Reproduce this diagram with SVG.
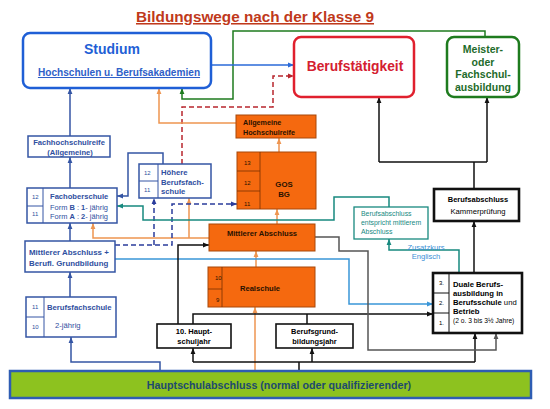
<svg xmlns="http://www.w3.org/2000/svg" width="550" height="409" viewBox="0 0 550 409">
<style>
text{font-family:"Liberation Sans",Arial,sans-serif}
.b{font-weight:bold}
.bt{fill:#2f4fa0}
.bx{fill:#fff;stroke:#3455a4;stroke-width:1.5}
.ob{fill:#f5690f;stroke:#a8480a;stroke-width:1}
.kb{fill:#fff;stroke:#111;stroke-width:1.6}
.kb2{fill:#fff;stroke:#111;stroke-width:2.6}
.dv{stroke:#3455a4;stroke-width:1;fill:none}
.dk{stroke:#7a3000;stroke-width:0.8;fill:none}
.ot{fill:#2a1200}
.c{fill:none;stroke-width:1.5}
.cb{stroke:#3455a4;marker-end:url(#ab)}
.cs{stroke:#2a6ad8;marker-end:url(#as)}
.cg{stroke:#1e7b1e;marker-end:url(#ag)}
.cr{stroke:#b8262e;stroke-dasharray:5 3;marker-end:url(#ar)}
.co{stroke:#ee9550;marker-end:url(#ao)}
.cd{stroke:#2a3c9c;stroke-dasharray:5 3}
.ct{stroke:#17897f}
.cl{stroke:#3a96d8}
.ck{stroke:#111}
.cy{stroke:#555}
.sm{font-size:6px}
</style>
<defs>
<marker id="ab" viewBox="0 0 10 10" refX="10" refY="5" markerWidth="6" markerHeight="6" markerUnits="userSpaceOnUse" orient="auto"><path d="M0,1L10,5L0,9z" fill="#3455a4"/></marker>
<marker id="as" viewBox="0 0 10 10" refX="10" refY="5" markerWidth="6" markerHeight="6" markerUnits="userSpaceOnUse" orient="auto"><path d="M0,1L10,5L0,9z" fill="#2a6ad8"/></marker>
<marker id="ag" viewBox="0 0 10 10" refX="10" refY="5" markerWidth="6" markerHeight="6" markerUnits="userSpaceOnUse" orient="auto"><path d="M0,1L10,5L0,9z" fill="#1e7b1e"/></marker>
<marker id="ar" viewBox="0 0 10 10" refX="10" refY="5" markerWidth="6" markerHeight="6" markerUnits="userSpaceOnUse" orient="auto"><path d="M0,1L10,5L0,9z" fill="#b8262e"/></marker>
<marker id="ao" viewBox="0 0 10 10" refX="10" refY="5" markerWidth="6" markerHeight="6" markerUnits="userSpaceOnUse" orient="auto"><path d="M0,1L10,5L0,9z" fill="#ee9550"/></marker>
<marker id="ad" viewBox="0 0 10 10" refX="10" refY="5" markerWidth="6" markerHeight="6" markerUnits="userSpaceOnUse" orient="auto"><path d="M0,1L10,5L0,9z" fill="#2a3c9c"/></marker>
<marker id="at" viewBox="0 0 10 10" refX="10" refY="5" markerWidth="6" markerHeight="6" markerUnits="userSpaceOnUse" orient="auto"><path d="M0,1L10,5L0,9z" fill="#17897f"/></marker>
<marker id="al" viewBox="0 0 10 10" refX="10" refY="5" markerWidth="6" markerHeight="6" markerUnits="userSpaceOnUse" orient="auto"><path d="M0,1L10,5L0,9z" fill="#3a96d8"/></marker>
<marker id="ak" viewBox="0 0 10 10" refX="10" refY="5" markerWidth="6" markerHeight="6" markerUnits="userSpaceOnUse" orient="auto"><path d="M0,1L10,5L0,9z" fill="#111"/></marker>
<marker id="ay" viewBox="0 0 10 10" refX="10" refY="5" markerWidth="6" markerHeight="6" markerUnits="userSpaceOnUse" orient="auto"><path d="M0,1L10,5L0,9z" fill="#555"/></marker>
</defs>
<rect width="550" height="409" fill="#fff"/>

<text x="255" y="22" text-anchor="middle" class="b" font-size="15.3" fill="#c0391b" text-decoration="underline">Bildungswege nach der Klasse 9</text>

<g id="connectors">
<path class="c cb" d="M70,136V88"/>
<path class="c cb" d="M70,188V157"/>
<path class="c cb" d="M70,241V223"/>
<path class="c cb" d="M70,297V272"/>
<path class="c cb" d="M160,371V362H71V337"/>
<path class="c cb" d="M163,164V153H128V196H117"/>
<path class="c cg" d="M485,37V31H233V99H182V88"/>
<path class="c cs" d="M211,65H294"/>
<path class="c cr" d="M182,164V107H273V76H294"/>
<path class="c co" d="M236,123H159V88"/>
<path class="c co" d="M279,152V138"/>
<path class="c co" d="M277,224V209"/>
<path class="c co" d="M256,267V251"/>
<path class="c co" d="M255,371V307"/>
<path class="c co" d="M209,238H93V223"/>
<path class="c co" d="M189,238V198"/>
<path class="c cd" d="M115,245H172V204H237" marker-end="url(#ad)"/>
<path class="c cd" d="M154,245V198" marker-end="url(#ad)"/>
<path class="c ct" d="M459,273V250H389V239" marker-end="url(#at)"/>
<path class="c ct" d="M389,207V197H334V220H143V206H117" marker-end="url(#at)"/>
<path class="c ck" d="M474,189V162M379,162H487"/>
<path class="c ck" d="M379,162V97" marker-end="url(#ak)"/>
<path class="c ck" d="M487,162V97" marker-end="url(#ak)"/>
<path class="c ck" d="M474,273V221" marker-end="url(#ak)"/>
<path class="c cl" d="M115,259H349V304H433" marker-end="url(#al)"/>
<path class="c ck" d="M178,324V245H209" marker-end="url(#ak)"/>
<path class="c ck" d="M193,324V314H433" marker-end="url(#ak)"/>
<path class="c ck" d="M307,314V324"/>
<path class="c ck" d="M299,371V362M193,362H475"/>
<path class="c ck" d="M193,362V348" marker-end="url(#ak)"/>
<path class="c ck" d="M312,362V348" marker-end="url(#ak)"/>
<path class="c ck" d="M475,362V333" marker-end="url(#ak)"/>
<path class="c cy" d="M315,237H339V251H368V350H496V333" marker-end="url(#ay)"/>
</g>

<g id="studium">
<rect x="23" y="33" width="188" height="55" rx="7" fill="#fff" stroke="#1f5fd6" stroke-width="2.5"/>
<text x="112" y="54" text-anchor="middle" class="b" font-size="14" fill="#1f5fd6">Studium</text>
<text x="119" y="76" text-anchor="middle" class="b" font-size="10.1" fill="#2f5fc8" text-decoration="underline">Hochschulen u. Berufsakademien</text>
</g>

<g id="berufstaetigkeit">
<rect x="294" y="37" width="120" height="60" rx="7" fill="#fff" stroke="#e0202e" stroke-width="2.5"/>
<text x="355" y="71" text-anchor="middle" class="b" font-size="13.8" fill="#d42030">Berufstätigkeit</text>
</g>

<g id="meister">
<rect x="447" y="37" width="72" height="60" rx="7" fill="#fff" stroke="#1e7b1e" stroke-width="2.5"/>
<g class="b" font-size="10.5" fill="#1e6b2a" text-anchor="middle">
<text x="483" y="53">Meister-</text>
<text x="483" y="66">oder</text>
<text x="483" y="78">Fachschul-</text>
<text x="483" y="91">ausbildung</text>
</g>
</g>

<g id="fachhochschulreife">
<rect class="bx" x="28" y="136" width="82" height="21"/>
<text x="69" y="145" text-anchor="middle" class="b bt" font-size="7.6">Fachhochschulreife</text>
<text x="70" y="155" text-anchor="middle" class="b bt" font-size="7.6">(Allgemeine)</text>
</g>

<g id="fachoberschule">
<rect class="bx" x="27" y="188" width="90" height="35"/>
<path class="dv" d="M43,188V223M27,206H43"/>
<text x="32" y="199" class="sm bt">12</text>
<text x="32" y="216" class="sm bt">11</text>
<text x="50" y="199" class="b bt" font-size="7.6">Fachoberschule</text>
<text x="50" y="210" class="bt" font-size="7.6" textLength="58" lengthAdjust="spacingAndGlyphs">Form <tspan class="b">B</tspan> : <tspan class="b">1</tspan>- jährig</text>
<text x="50" y="219" class="bt" font-size="7.6" textLength="58" lengthAdjust="spacingAndGlyphs">Form <tspan class="b">A</tspan> : <tspan class="b">2</tspan>- jährig</text>
</g>

<g id="hoehere-berufsfachschule">
<rect class="bx" x="139" y="164" width="72" height="34"/>
<path class="dv" d="M158,164V198M139,181H158"/>
<text x="144" y="175" class="sm bt">12</text>
<text x="144" y="192" class="sm bt">11</text>
<text x="161" y="175" class="b bt" font-size="7.7">Höhere</text>
<text x="161" y="184.5" class="b bt" font-size="7.7">Berufsfach-</text>
<text x="161" y="194" class="b bt" font-size="7.7">schule</text>
</g>

<g id="mittlerer-abschluss-plus">
<rect class="bx" x="25" y="241" width="90" height="31"/>
<text x="29" y="255" class="b bt" font-size="7.9">Mittlerer Abschluss +</text>
<text x="29" y="266" class="b bt" font-size="7.9">Berufl. Grundbildung</text>
</g>

<g id="berufsfachschule">
<rect class="bx" x="26" y="297" width="90" height="40"/>
<path class="dv" d="M44,297V337M26,317H44"/>
<text x="32" y="309" class="sm bt">11</text>
<text x="32" y="329" class="sm bt">10</text>
<text x="47" y="310" class="b bt" font-size="7.7">Berufsfachschule</text>
<text x="55" y="328" class="bt" font-size="7.7">2-jährig</text>
</g>

<g id="allgemeine-hochschulreife">
<rect class="ob" x="236" y="115" width="80" height="23"/>
<text x="243" y="125" class="b ot" font-size="7.2">Allgemeine</text>
<text x="243" y="135" class="b ot" font-size="7.2">Hochschulreife</text>
</g>

<g id="gos-bg">
<rect class="ob" x="237" y="152" width="79" height="57"/>
<path class="dk" d="M260,152V209M237,171H260M237,191H260"/>
<text x="244" y="165" class="sm ot">13</text>
<text x="244" y="185" class="sm ot">12</text>
<text x="244" y="206" class="sm ot">11</text>
<text x="284" y="187" text-anchor="middle" class="b ot" font-size="7.8">GOS</text>
<text x="284" y="197" text-anchor="middle" class="b ot" font-size="7.8">BG</text>
</g>

<g id="mittlerer-abschluss">
<rect class="ob" x="209" y="224" width="106" height="27"/>
<text x="262" y="236" text-anchor="middle" class="b ot" font-size="7.6">Mittlerer Abschluss</text>
</g>

<g id="realschule">
<rect class="ob" x="208" y="267" width="107" height="40"/>
<path class="dk" d="M222,267V307M208,289H222"/>
<text x="215" y="280" class="sm ot">10</text>
<text x="216" y="302" class="sm ot">9</text>
<text x="260" y="291" text-anchor="middle" class="b ot" font-size="7.6">Realschule</text>
</g>

<g id="hauptschuljahr">
<rect class="kb" x="157" y="324" width="74" height="24"/>
<text x="194" y="334" text-anchor="middle" class="b" font-size="7.5">10. Haupt-</text>
<text x="194" y="344" text-anchor="middle" class="b" font-size="7.5">schuljahr</text>
</g>

<g id="berufsgrundbildungsjahr">
<rect class="kb" x="276" y="324" width="77" height="24"/>
<text x="314.5" y="334" text-anchor="middle" class="b" font-size="7.4">Berufsgrund-</text>
<text x="314.5" y="344" text-anchor="middle" class="b" font-size="7.4">bildungsjahr</text>
</g>

<g id="berufsabschluss-mittlerer">
<rect x="354" y="207" width="74" height="32" fill="#fff" stroke="#17897f" stroke-width="1.3"/>
<g font-size="6.9" fill="#17897f">
<text x="361" y="216">Berufsabschluss</text>
<text x="361" y="225">entspricht mittlerem</text>
<text x="361" y="234">Abschluss</text>
</g>
</g>

<g id="zusatzkurs">
<text x="426" y="250" text-anchor="middle" font-size="7.6" fill="#3b8fd6">Zusatzkurs</text>
<text x="426" y="259" text-anchor="middle" font-size="7.6" fill="#3b8fd6">Englisch</text>
</g>

<g id="berufsabschluss">
<rect class="kb2" x="434" y="189" width="85" height="32"/>
<text x="478" y="202" text-anchor="middle" class="b" font-size="7.5">Berufsabschluss</text>
<text x="478" y="214" text-anchor="middle" font-size="7.7">Kammerprüfung</text>
</g>

<g id="duale-ausbildung">
<rect class="kb2" x="433" y="273" width="89" height="60"/>
<path d="M449,273V333M433,293H449M433,313H449" stroke="#111" stroke-width="1" fill="none"/>
<text x="439" y="285" class="sm">3.</text>
<text x="439" y="305" class="sm">2.</text>
<text x="439" y="325" class="sm">1.</text>
<g font-size="7.7">
<text x="453" y="287" class="b">Duale Berufs-</text>
<text x="453" y="296" class="b">ausbildung in</text>
<text x="453" y="305"><tspan class="b">Berufsschule</tspan> und</text>
<text x="453" y="314" class="b">Betrieb</text>
<text x="453" y="323" font-size="6.7">(2 o. 3 bis 3½ Jahre)</text>
</g>
</g>

<g id="hauptschulabschluss">
<rect x="10" y="371" width="521" height="27" fill="#8dc21f" stroke="#2e5db3" stroke-width="2.5"/>
<text x="279" y="389" text-anchor="middle" class="b" font-size="10.7" fill="#1d4a6e">Hauptschulabschluss (normal oder qualifizierender)</text>
</g>
</svg>
